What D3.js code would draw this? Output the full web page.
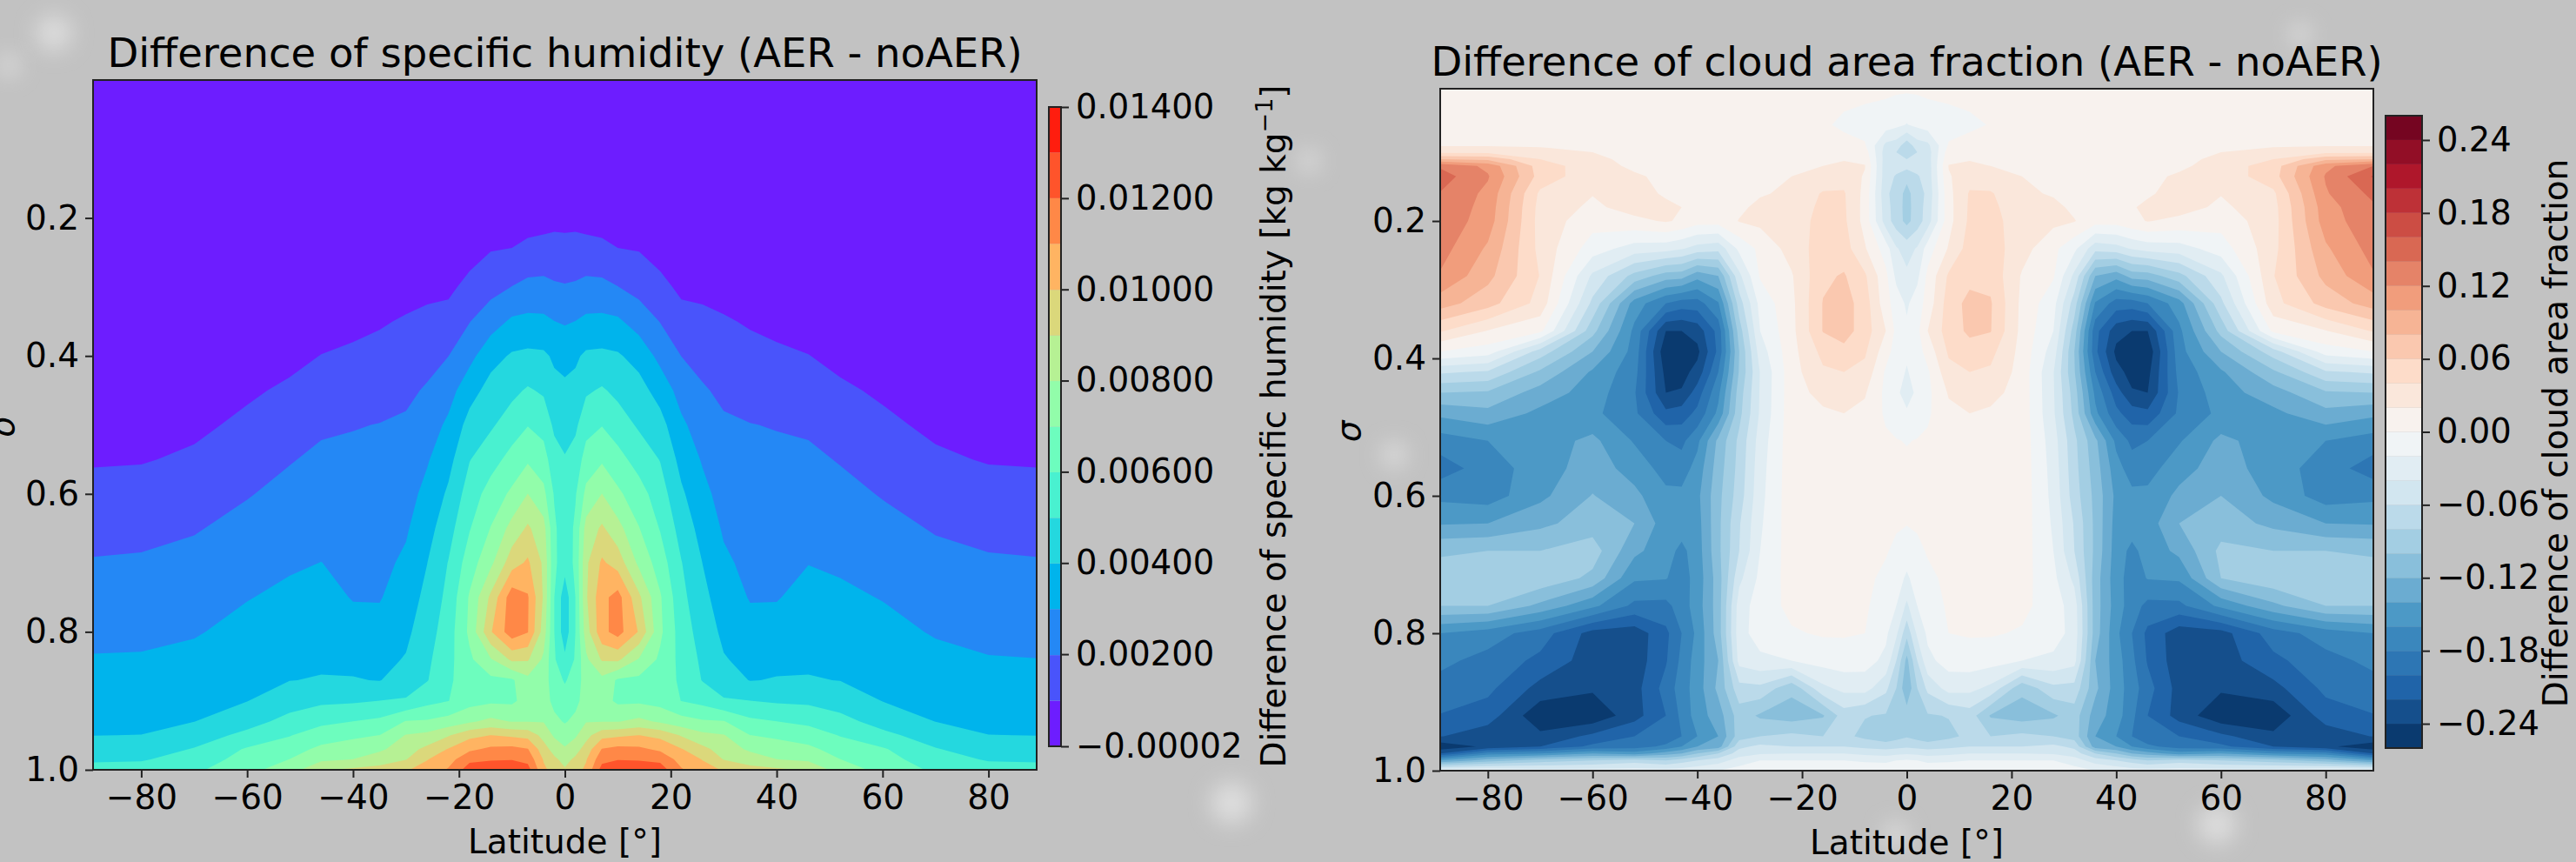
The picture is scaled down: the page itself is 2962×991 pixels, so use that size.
<!DOCTYPE html>
<html>
<head>
<meta charset="utf-8">
<script src="https://cdn.jsdelivr.net/npm/d3@7"></script>
<style>
body { margin: 0; background: #c2c2c2; }
text { font-family: "DejaVu Sans", sans-serif; fill: #000; }
</style>
</head>
<body>
<div id="target"></div>
<script>
// specific humidity difference, g/kg (rows top to bottom, columns south to north)
const humidityLats = [-89.1,-80,-70,-60,-52,-46,-40,-35,-30,-26,-22,-18,-14,-10,-7,-4,-2,0,2,4,7,10,14,18,22,26,30,35,40,46,52,60,70,80,89.1];
const humiditySigma = [0,0.15,0.2,0.25,0.3,0.35,0.4,0.45,0.5,0.55,0.6,0.65,0.7,0.75,0.8,0.84,0.87,0.9,0.93,0.95,0.97,0.985,1];
const humidityRows = [
[0,0,0,0,0,0,0,0,0,0,0,0,0,0,0,0,0,0,0,0,0,0,0,0,0,0,0,0,0,0,0,0,0,0,0],
[0,0,0,0,0,0,0,0,0,0,0,0,0,0,0,0,0,0,0,0,0,0,0,0,0,0,0,0,0,0,0,0,0,0,0],
[0,0,0,0,0,0,0,0,0,0,0,.1,.1,.2,.4,.6,.7,.7,.7,.6,.4,.2,.1,.1,0,0,0,0,0,0,0,0,0,0,0],
[0,0,0,0,.05,.05,.1,.1,.15,.2,.3,.6,1,1.1,1.4,1.4,1.4,1.35,1.4,1.4,1.4,1.1,1,.6,.3,.2,.15,.1,.1,.05,.05,0,0,0,0],
[.1,.1,.1,.15,.2,.25,.3,.45,.6,.7,.75,1.3,1.65,2,2.2,2.25,2.1,2.05,2.1,2.25,2.2,2,1.65,1.3,.75,.7,.6,.45,.3,.25,.2,.15,.1,.1,.1],
[.2,.2,.2,.35,.45,.6,.7,.88,1.08,1.25,1.39,1.95,2.55,3.15,3.25,3.2,3,2.9,3,3.2,3.25,3.15,2.55,1.95,1.39,1.25,1.08,.88,.7,.6,.45,.35,.2,.2,.2],
[.3,.3,.35,.6,.75,1,1.17,1.29,1.47,1.67,1.97,2.7,3.65,4.1,4.2,4.15,3.85,3.65,3.85,4.15,4.2,4.1,3.65,2.7,1.97,1.67,1.47,1.29,1.17,1,.75,.6,.35,.3,.3],
[.5,.5,.5,.85,1.12,1.42,1.55,1.64,1.79,2.08,2.6,3.6,4.35,4.75,5.1,4.85,4.25,4.2,4.25,4.85,5.1,4.75,4.35,3.6,2.6,2.08,1.79,1.64,1.55,1.42,1.12,.85,.5,.5,.5],
[.7,.7,.8,1.16,1.52,1.83,1.94,2,2.11,2.49,3.18,4.35,4.85,5.48,5.95,5.63,4.8,4.65,4.8,5.63,5.95,5.48,4.85,4.35,3.18,2.49,2.11,2,1.94,1.83,1.52,1.16,.8,.7,.7],
[.9,.92,1.12,1.54,1.92,2.17,2.16,2.19,2.36,2.9,3.67,4.95,5.6,6.33,6.85,6.4,5.4,5.05,5.4,6.4,6.85,6.33,5.6,4.95,3.67,2.9,2.36,2.19,2.16,2.17,1.92,1.54,1.12,.92,.9],
[1.24,1.32,1.52,1.92,2.25,2.44,2.36,2.37,2.62,3.27,4.15,5.46,6.4,7.18,8,7.25,5.9,5.3,5.9,7.25,8,7.18,6.4,5.46,4.15,3.27,2.62,2.37,2.36,2.44,2.25,1.92,1.52,1.32,1.24],
[1.64,1.71,1.91,2.27,2.56,2.72,2.55,2.56,2.88,3.62,4.6,5.93,7.03,8.34,9.15,8.35,6.2,5.3,6.2,8.35,9.15,8.34,7.03,5.93,4.6,3.62,2.88,2.56,2.55,2.7,2.54,2.27,1.91,1.71,1.64],
[2.05,2.1,2.25,2.61,2.87,3,2.75,2.74,3.16,3.98,5.03,6.5,7.76,9.55,10.15,8.8,6.2,5.4,6.2,8.8,10.15,9.55,7.76,6.5,5.03,3.98,3.16,2.74,2.75,2.97,2.85,2.61,2.25,2.1,2.05],
[2.4,2.44,2.58,2.95,3.19,3.3,2.94,2.93,3.47,4.27,5.27,7.1,9.2,11.6,11.1,8.85,6,4.4,6,8.85,10.7,11.4,9.2,7.1,5.27,4.27,3.47,2.93,2.94,3.27,3.17,2.95,2.58,2.44,2.4],
[2.76,2.78,2.91,3.29,3.52,3.6,3.34,3.31,3.78,4.56,5.5,7.2,9.9,11.6,11.05,8.5,6,4.4,6,8.5,10.7,11.4,9.9,7.2,5.5,4.56,3.78,3.31,3.32,3.58,3.5,3.29,2.91,2.78,2.76],
[3.05,3.07,3.23,3.56,3.77,3.83,3.73,3.7,4.06,4.79,5.68,6.8,7.9,9.2,9.1,7.8,6.1,5.2,6.1,7.8,9.1,9.2,7.9,6.8,5.68,4.79,4.06,3.7,3.73,3.83,3.77,3.56,3.23,3.03,3],
[3.3,3.32,3.48,3.76,3.97,4.05,4.05,3.95,4.49,4.94,5.8,6.6,6.75,6.85,7.7,7.5,6.4,5.9,6.4,7.5,7.7,6.85,6.75,6.6,5.8,4.94,4.49,3.95,4.05,4.05,3.97,3.76,3.48,3.3,3.3],
[3.55,3.58,3.73,3.97,4.55,4.8,4.86,5,5.08,5.67,5.97,6.6,6.8,6.8,7.4,7.45,6.7,6.4,6.7,7.45,7.4,6.8,6.8,6.6,5.97,5.67,5.08,5,4.86,4.8,4.55,3.97,3.73,3.58,3.55],
[3.8,3.83,3.98,4.62,5.31,5.76,6,6.2,7.05,7.11,7.4,7.85,8.25,7.95,7.95,7.95,7.25,6.9,7.25,7.95,7.95,7.95,8.25,7.85,7.4,7.11,7.05,6.2,6,5.76,5.31,4.62,3.98,3.83,3.8],
[3.98,4,4.5,5.25,5.94,6.48,6.8,7,8.05,8.25,8.9,9.7,10,9.8,9.65,8.65,7.85,7.5,7.85,8.65,9.65,9.8,10,9.7,8.9,8.25,8.05,7,6.8,6.48,5.94,5.25,4.5,4,3.98],
[4.45,4.5,5.05,6.1,6.55,7.23,7.5,7.8,8.56,9.26,10.05,10.8,11.2,11.3,11.05,9.4,8.6,8.1,8.6,9.4,11.05,11.3,11.2,10.8,10.05,9.26,8.56,7.8,7.5,7.23,6.55,6.1,5.05,4.5,4.45],
[4.87,4.9,5.4,6.4,7,7.8,8,8.55,8.95,9.95,10.6,11.75,11.9,11.95,11.7,9.9,9.2,8.65,9.2,9.9,11.7,11.95,11.9,11.75,10.6,9.95,8.95,8.55,8,7.8,7,6.4,5.4,4.9,4.87],
[5.3,5.4,5.8,6.7,7.5,8.9,9.2,9.3,9.9,10.4,11.1,12.5,12.8,12.9,12.4,10.2,9.6,9.1,9.6,10.2,12.4,12.9,12.8,12.5,11.1,10.4,9.9,9.3,9.2,8.9,7.5,6.7,5.8,5.4,5.3]
];
const humidityLevels = [-0.00002,0.00098,0.00198,0.00299,0.00399,0.00499,0.00599,0.00699,0.00799,0.00899,0.00999,0.011,0.012,0.013,0.014];
const humidityTicks = [-0.00002,0.002,0.004,0.006,0.008,0.01,0.012,0.014];

// cloud area fraction difference, in hundredths
const cloudLats = [-89.1,-80,-70,-60,-52,-46,-43,-40,-36,-32,-28,-22,-16,-12,-8,-4,-2,0,2,4,8,12,16,22,28,32,36,40,43,46,52,60,70,80,89.1];
const cloudSigma = [0.0075,0.06,0.09,0.1,0.11,0.12,0.135,0.16,0.18,0.2,0.24,0.28,0.32,0.36,0.39,0.42,0.45,0.48,0.52,0.56,0.6,0.64,0.68,0.72,0.76,0.8,0.84,0.88,0.92,0.95,0.965,0.975,0.985,1];
const cloudRows = [
[.8,.8,.8,.8,.9,.9,.9,.9,.9,.9,.9,.8,.8,.7,.6,.4,.3,.3,.3,.4,.6,.7,.8,.8,.9,.9,.9,.9,.9,.9,.9,.8,.8,.8,.8],
[.9,.9,.9,.9,1,1,1,1,1,1,1,.8,.3,-.4,-.8,-1,-1.5,-2.1,-1.5,-1,-.8,-.4,.1,.8,1,1,1,1,1,1,1,.9,.9,.9,.9],
[1.8,1.8,1.8,1.6,1.1,1.2,1.2,1.2,1.2,1.2,1.2,1,1,.7,.2,-4.5,-5,-7.2,-5,-4.5,.2,.7,1,1,1.2,1.2,1.2,1.2,1.2,1.2,1.1,1.6,1.8,1.8,1.8],
[3.6,3.6,2.6,2,1.2,1.3,1.2,1.2,1.2,1.2,1.2,1.2,1.2,1,1,-5,-6,-7.7,-6,-5,1,1,1.2,1.2,1.2,1.2,1.2,1.2,1.2,1.3,1.2,2,2.6,3.6,3.6],
[8,7.5,4,2.6,1.3,1.3,1.2,1.2,1.2,1.2,1.2,1.3,1.6,1.9,1.5,-5,-5.5,-6,-5.5,-5,1.5,1.9,1.6,1.3,1.2,1.2,1.2,1.2,1.2,1.3,1.3,2.6,4,7.5,8],
[13.7,11.5,5,2.9,1.6,1.3,1.2,1.2,1.2,1.2,1.3,1.5,2,2.3,2.1,-5.2,-5.2,-5.3,-5.2,-5.2,2.1,2.3,2,1.5,1.3,1.2,1.2,1.2,1.2,1.3,1.6,2.9,5,11.5,14],
[14.9,12.2,5.2,2.7,2.3,1.5,1.2,1.2,1.2,1.2,1.5,2,2.8,3.2,1.8,-5.2,-6.2,-7.5,-6.2,-5.2,1.8,3.2,2.8,2,1.5,1.2,1.2,1.2,1.2,1.5,2.3,2.7,5.2,12.2,16.2],
[13.9,11.5,3.6,2.1,2.9,1.7,1.3,1.2,1.2,1.2,1.8,2.4,4.2,4.2,1.4,-5.5,-7,-8.6,-7,-5.5,1.4,4.2,4.2,2.4,1.8,1.2,1.2,1.2,1.3,1.7,2.9,2.1,3.6,11.8,14.5],
[13.7,11.2,3.3,1.6,2.8,2.5,2,1.3,1.3,1.6,2.5,2.7,4.5,4.3,1.3,-5.2,-7,-8.7,-7,-5.2,1.3,4.3,4.5,2.7,2.5,1.6,1.3,1.3,1.8,2.5,2.8,1.6,3.3,11.2,13.7],
[13.4,11,3.2,.8,1.5,2.2,1.7,.8,.8,2.1,2.5,2.8,4.8,4.4,1.3,-5,-7,-8.6,-7,-5,1.3,4.4,4.8,2.8,2.5,2.1,.8,.8,1.5,2.1,1.5,.8,3.2,11,13.4],
[12.8,9.7,3.4,-1,-2.9,-3.2,-3.8,-4.8,-5.3,-1.5,.5,2.8,5,4.9,2.2,-1,-3.8,-4.8,-3.8,-1,2.2,4.9,5,2.8,.5,-1.5,-5.3,-4.8,-3.8,-3.2,-2.9,-1,3.4,9.7,12.8],
[11.8,8.6,3.9,-4.4,-8.7,-11,-11.2,-13.3,-12,-4.5,.2,1.8,5.6,6.2,4.3,.5,-2.5,-3.6,-2.5,.5,4.3,5.4,5.4,1.8,.2,-4.5,-12,-13.3,-11.2,-11,-8.7,-4.4,3.9,8.6,11.8],
[8.9,6.8,3.3,-6.5,-14.9,-18,-19,-18.9,-16.2,-7,-1.3,1.5,6.1,6.9,5,.8,-1,-2.3,-1,.8,5,6.6,6.2,1.5,-1.3,-7,-16.2,-18.9,-19,-18,-14.9,-6.5,3.3,6.8,8.9],
[4.2,1.9,.5,-9.3,-16.5,-24,-24,-23.2,-19.3,-9,-2,1.4,6.1,6.9,5,2,-.5,-1.6,-.5,2,5,6.4,6.1,1.4,-2,-9,-19.3,-23.2,-24,-24,-16.5,-9.3,.5,1.9,4.2],
[0,-1,-6.9,-12,-16.8,-25.5,-25.7,-24.5,-19.5,-10,-3,1.3,4.6,5.4,4.3,.8,-.9,-1.8,-.9,.8,4.3,5.2,4.6,1.3,-3,-10,-19.5,-24.5,-25.7,-25.5,-16.8,-12,-6.9,-1,0],
[-5.7,-6.3,-10.4,-14.3,-17.3,-24.6,-24.7,-23.3,-18,-9.8,-3.9,1.2,3.7,4,3.4,-.3,-1.5,-2.1,-1.5,-.3,3.4,4,3.7,1.2,-3.9,-9.8,-18,-23.3,-24.7,-24.6,-17.3,-14.3,-10.4,-6.3,-5.7],
[-10,-10.3,-12.9,-14.9,-17.8,-24,-23.8,-21,-16.5,-9,-3.8,1.2,2.6,3,2.2,-.5,-1.7,-2.6,-1.7,-.5,2.2,3,2.6,1.2,-3.8,-9,-16.5,-21,-23.8,-24,-17.8,-14.9,-12.9,-10.3,-10],
[-13.5,-12.6,-14.5,-15.5,-17.6,-21.5,-21,-19.5,-15.5,-8.6,-3.7,1.2,1.7,2,1.5,-.3,-1,-1.8,-1,-.3,1.5,2,1.7,1.2,-3.7,-8.6,-15.5,-19.5,-21,-21.5,-17.6,-15.5,-14.5,-12.6,-13.5],
[-17,-16,-15,-13.5,-16.2,-18,-18.5,-16.5,-11.5,-7.5,-3.1,1.2,1.4,1.2,1.1,.3,.1,-.1,.1,.3,1.1,1.2,1.4,1.2,-3.1,-7.5,-11.5,-16.5,-18.5,-18,-16.2,-13.5,-15,-16,-17],
[-19,-17,-15,-13,-14.8,-16.8,-17,-15.2,-11,-7.3,-2.8,1.2,1.3,1.1,1,.5,.4,.4,.4,.5,1,1.1,1.3,1.2,-2.8,-7.3,-11,-15.2,-17,-16.8,-14.8,-13,-15,-17,-19],
[-16.5,-17,-14.5,-11.9,-13.5,-15.5,-15.5,-14.5,-10.6,-7,-2.6,1.2,1.3,1,1,.5,.4,.4,.4,.5,1,1,1.3,1.2,-2.6,-7,-10.6,-14.5,-15.5,-15.5,-13.5,-12,-14.5,-17,-16.5],
[-14.2,-14,-12.5,-11,-12,-15,-15,-14.8,-10.5,-6.2,-2.3,1.1,1.3,1,1,.4,.3,.1,.3,.4,1,1,1.3,1.1,-2.3,-6.2,-10.5,-14.8,-15,-15,-12,-11,-12.5,-14,-14.2],
[-10.3,-10,-10,-9,-13.5,-15.2,-16.5,-15,-10.5,-6,-2,1,1.2,1,.8,.2,-.5,-1.1,-.5,.2,.8,1,1.2,1,-2,-6,-10.5,-15,-16.5,-15.2,-13.5,-9.5,-10,-10,-10.3],
[-9,-8.7,-8.5,-10.5,-15.7,-15.9,-16.9,-15.2,-11,-4.5,-1.5,.8,1,.7,.5,-.5,-1.2,-2.3,-1.2,-.5,.5,.7,1,.8,-1.5,-4.5,-11,-15.2,-16.9,-15.9,-15.7,-10,-8.5,-8.7,-9],
[-10,-10,-12.5,-15.5,-18.5,-18.6,-17,-15,-11,-3,-1,.5,.6,.8,.3,-1.1,-2,-4.4,-2,-1.1,.3,.8,.6,.5,-1,-3,-11,-15,-17,-18.6,-18.5,-15.5,-12.5,-10,-10],
[-16,-17,-19,-22.8,-23.2,-20.5,-18,-15.5,-11,-2.8,-1,-.2,.2,.2,0,-1.6,-3.6,-7.4,-3.6,-1.6,0,.2,.2,-.2,-1,-2.8,-11,-15.5,-18,-20.5,-23.2,-22.8,-19,-17,-16],
[-17.5,-18.7,-20.5,-23,-23.2,-20.2,-17.5,-15,-12,-3.3,-2.5,-2,-1.2,-1,-1.2,-2.5,-6,-10.6,-6,-2.5,-1.2,-1,-1.2,-2,-2.5,-3.3,-12,-15,-17.5,-20.2,-23.2,-23,-20.5,-18.7,-17.5],
[-18.8,-19.5,-22.7,-23.7,-22.8,-19.2,-17,-15,-11.5,-6.7,-6.5,-9.5,-4.5,-3.4,-3.2,-5.5,-8,-11.6,-8,-5.5,-3.2,-3.4,-4.5,-9.5,-6.5,-6.7,-11.5,-15,-17,-19.2,-22.8,-23.7,-22.7,-19.5,-18.8],
[-20.1,-21,-25.5,-25.5,-22.8,-20,-17.5,-15,-13,-9,-10.3,-11,-10.2,-7,-7.9,-8.2,-8.6,-9,-8.6,-8.2,-7.9,-7,-10.2,-11,-10.3,-9,-13,-15,-17.5,-20,-22.8,-25.5,-25.5,-21,-20.1],
[-21.9,-23.2,-23.5,-21.5,-20,-19.5,-18,-16,-14,-8.9,-8,-7.5,-8,-7.5,-8.5,-9.5,-8.8,-8.2,-8.8,-9.5,-8.5,-7.5,-8,-7.5,-8,-8.9,-14,-16,-18,-19.5,-20,-21.5,-23.5,-23.2,-21.9],
[-25.5,-23.5,-22,-19.5,-19,-17.5,-16,-14,-13,-6.5,-5.5,-6,-6,-6,-6.5,-6.8,-6.6,-6.3,-6.6,-6.8,-6.5,-6,-6,-6,-5.5,-6.5,-13,-14,-16,-17.5,-19,-19.5,-22,-23.5,-25.5],
[-22,-17,-16,-14,-15,-13,-12,-10,-8,-5,-4.2,-4,-4,-4,-4.5,-4.8,-4.5,-4.2,-4.5,-4.8,-4.5,-4,-4,-4,-4.2,-5,-8,-10,-12,-13,-15,-14,-16,-17,-22],
[-14,-11,-9,-8,-7,-8,-7,-6,-5,-3,-2,-2,-2,-2,-2.3,-2.5,-2,-1.8,-2,-2.5,-2.3,-2,-2,-2,-2,-3,-5,-6,-7,-8,-7,-8,-9,-11,-14],
[-2,-2,-3,-3,-3,-3,-3,-2.5,-2,-1.2,-.5,-.3,-.3,-.3,-.5,-.5,-.4,-.4,-.4,-.5,-.5,-.3,-.3,-.3,-.5,-1.2,-2,-2.5,-3,-3,-3,-3,-3,-2,-2]
];
const cloudLevels = [-0.26,-0.24,-0.22,-0.2,-0.18,-0.16,-0.14,-0.12,-0.1,-0.08,-0.06,-0.04,-0.02,0,0.02,0.04,0.06,0.08,0.1,0.12,0.14,0.16,0.18,0.2,0.22,0.24,0.26];
const cloudTicks = [-0.24,-0.18,-0.12,-0.06,0,0.06,0.12,0.18,0.24];

const latTicks = [-80,-60,-40,-20,0,20,40,60,80];
const sigmaTicks = [0.2,0.4,0.6,0.8,1.0];
// soft light specks of the backdrop [x, y, r]
const specks = [[62,38,20],[1416,923,24],[2549,948,22],[1603,523,14],[1505,185,12],[10,75,12],[2645,40,12],[2180,960,14]];

const rdbu = d3.scaleLinear()
	.domain(d3.range(11).map(i => i / 10))
	.range(["#053061","#2166ac","#4393c3","#92c5de","#d1e5f0","#f7f7f7","#fddbc7","#f4a582","#d6604d","#b2182b","#67001f"]);

function rainbow(t) {
	const r = Math.abs(2 * t - 0.5);
	const g = Math.sin(Math.PI * t);
	const b = Math.cos(Math.PI * t / 2);
	return d3.rgb(255 * Math.min(r, 1), 255 * g, 255 * b).formatHex();
}

const svg = d3.select("#target").append("svg")
	.attr("width", 2962)
	.attr("height", 991)
	.style("display", "block");

svg.append("filter").attr("id", "soft")
	.attr("x", "-100%").attr("y", "-100%").attr("width", "300%").attr("height", "300%")
	.append("feGaussianBlur").attr("stdDeviation", 12);
svg.append("rect").attr("width", 2962).attr("height", 991).attr("fill", "#c2c2c2");
svg.selectAll("circle.speck").data(specks).enter().append("circle")
	.attr("cx", d => d[0]).attr("cy", d => d[1]).attr("r", d => d[2])
	.attr("fill", "#e8e8e8").attr("fill-opacity", 0.7).attr("filter", "url(#soft)");

function drawPanel(p) {
	const x = d3.scaleLinear().domain([-89.1, 89.1]).range([p.left, p.right]);
	const y = d3.scaleLinear().domain([p.sigma[0], 1]).range([p.top, p.bottom]);
	const nx = p.lats.length, ny = p.sigma.length;
	const latOf = d3.scaleLinear().domain(d3.range(nx)).range(p.lats).clamp(true);
	const sigmaOf = d3.scaleLinear().domain(d3.range(ny)).range(p.sigma).clamp(true);

	// d3.contours puts grid values at cell centres, so step back half a cell
	const path = d3.geoPath(d3.geoTransform({
		point: function(i, j) {
			this.stream.point(x(latOf(i - 0.5)), y(sigmaOf(j - 0.5)));
		}
	}));
	const color = i => p.ramp((i + 0.5) / (p.levels.length - 1));

	const contours = d3.contours()
		.size([nx, ny])
		.smooth(true)
		.thresholds(p.levels.slice(0, -1))(p.rows.flat().map(v => v * p.unit));

	const g = svg.append("g");
	g.selectAll("path")
		.data(contours)
		.enter()
		.append("path")
		.attr("d", path)
		.attr("fill", (d, i) => color(i));

	g.append("rect")
		.attr("x", p.left).attr("y", p.top)
		.attr("width", p.right - p.left).attr("height", p.bottom - p.top)
		.attr("fill", "none").attr("stroke", "#222").attr("stroke-width", 2);

	const xAxis = g.append("g").attr("transform", `translate(0,${p.bottom})`)
		.call(d3.axisBottom(x).tickValues(latTicks).tickSizeOuter(0).tickSize(9).tickPadding(8));
	const yAxis = g.append("g").attr("transform", `translate(${p.left},0)`)
		.call(d3.axisLeft(y).tickValues(sigmaTicks).tickFormat(d3.format(".1f")).tickSizeOuter(0).tickSize(9).tickPadding(7));
	[xAxis, yAxis].forEach(a => {
		a.select(".domain").remove();
		a.selectAll("line").attr("stroke", "#222").attr("stroke-width", 2);
		a.selectAll("text").attr("font-size", 39).attr("font-family", "DejaVu Sans");
	});

	g.append("text").attr("x", (p.left + p.right) / 2).attr("y", p.titleY)
		.attr("text-anchor", "middle").attr("font-size", 46.5).text(p.title);
	g.append("text").attr("x", (p.left + p.right) / 2).attr("y", p.bottom + 96)
		.attr("text-anchor", "middle").attr("font-size", 39).text("Latitude [°]");
	g.append("text").attr("transform", `translate(${p.sigmaX},${(p.top + p.bottom) / 2 + 2}) rotate(-90)`)
		.attr("text-anchor", "middle").attr("font-size", 39).attr("font-style", "italic").text("σ");

	// colour bar
	const c = d3.scaleLinear().domain([p.levels[0], p.levels[p.levels.length - 1]]).range([p.barBottom, p.barTop]);
	const bar = svg.append("g");
	bar.selectAll("rect").data(p.levels.slice(0, -1)).enter().append("rect")
		.attr("x", p.barLeft)
		.attr("y", (d, i) => c(p.levels[i + 1]))
		.attr("width", p.barRight - p.barLeft)
		.attr("height", (d, i) => c(d) - c(p.levels[i + 1]))
		.attr("fill", (d, i) => color(i));
	bar.append("rect")
		.attr("x", p.barLeft).attr("y", p.barTop)
		.attr("width", p.barRight - p.barLeft).attr("height", p.barBottom - p.barTop)
		.attr("fill", "none").attr("stroke", "#222").attr("stroke-width", 2);
	const cAxis = bar.append("g").attr("transform", `translate(${p.barRight},0)`)
		.call(d3.axisRight(c).tickValues(p.ticks).tickFormat(d3.format(p.tickFmt)).tickSizeOuter(0).tickSize(9).tickPadding(8));
	cAxis.select(".domain").remove();
	cAxis.selectAll("line").attr("stroke", "#222").attr("stroke-width", 2);
	cAxis.selectAll("text").attr("font-size", 38.5).attr("font-family", "DejaVu Sans");

	const label = bar.append("text")
		.attr("transform", `translate(${p.labelX},${p.labelY}) rotate(-90)`)
		.attr("text-anchor", "middle").attr("font-size", 39);
	label.append("tspan").text(p.label);
	if (p.labelSup) {
		label.append("tspan").attr("dy", -15).attr("font-size", 27).text(p.labelSup);
		label.append("tspan").attr("dy", 15).text("]");
	}
}

drawPanel({
	left: 107, right: 1192, top: 92, bottom: 885,
	lats: humidityLats, sigma: humiditySigma, rows: humidityRows, unit: 0.001,
	levels: humidityLevels, ramp: rainbow,
	ticks: humidityTicks, tickFmt: ".5f",
	title: "Difference of specific humidity (AER - noAER)", titleY: 77,
	sigmaX: 16,
	barLeft: 1206, barRight: 1220, barTop: 123, barBottom: 858,
	label: "Difference of specific humidity [kg kg", labelSup: "−1",
	labelX: 1478, labelY: 490
});

drawPanel({
	left: 1656, right: 2729, top: 102, bottom: 886,
	lats: cloudLats, sigma: cloudSigma, rows: cloudRows, unit: 0.01,
	levels: cloudLevels, ramp: rdbu,
	ticks: cloudTicks, tickFmt: ".2f",
	title: "Difference of cloud area fraction (AER - noAER)", titleY: 87,
	sigmaX: 1564,
	barLeft: 2743, barRight: 2785, barTop: 133, barBottom: 860,
	label: "Difference of cloud area fraction",
	labelX: 2952, labelY: 498
});
</script>
</body>
</html>
